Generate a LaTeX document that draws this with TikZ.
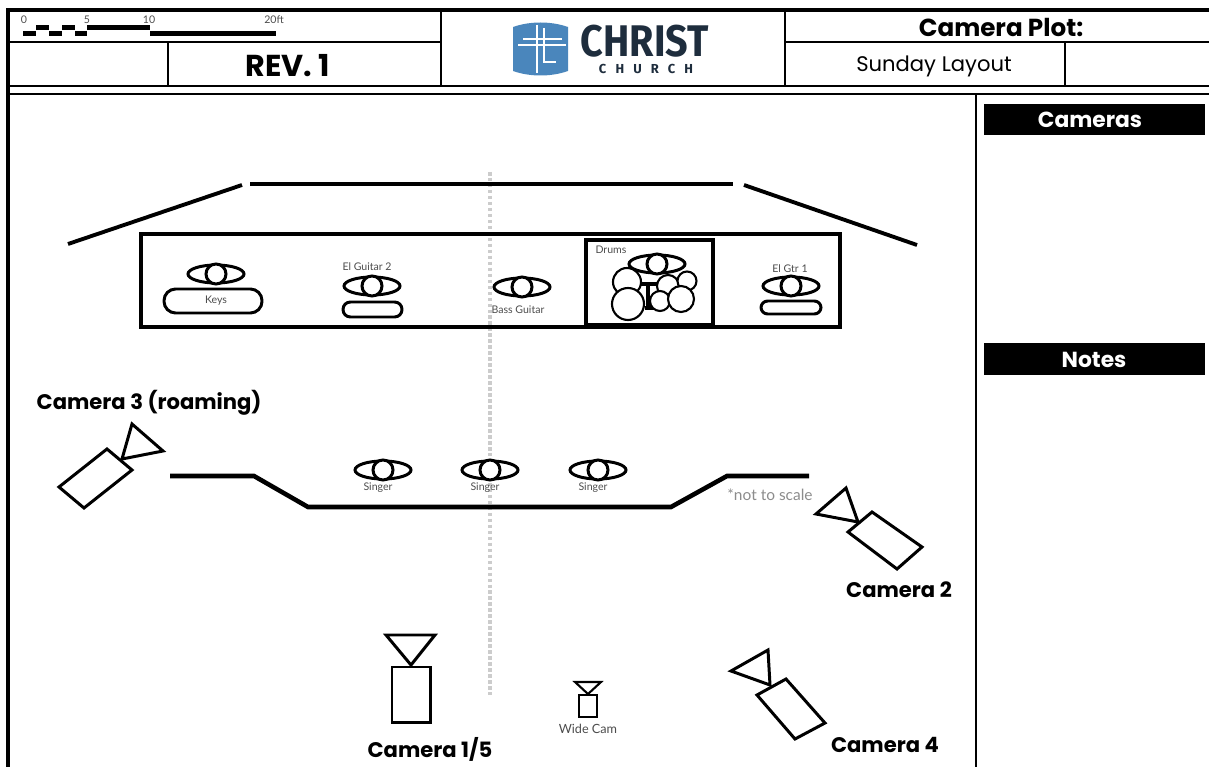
\documentclass[tikz,border=0pt]{standalone}
\usepackage{fontspec}
\setmainfont{Poppins}
\newfontfamily\logofont{Fira Sans}
\newfontfamily\spacedfont[LetterSpace=70]{Fira Sans}
\newfontfamily\plainfont{Lato}
\definecolor{logoblue}{HTML}{4A86BC}
\definecolor{logonavy}{HTML}{1E2D3D}

\tikzset{
  frameline/.style = {line width=.8pt, black},
  wall/.style = {line width=1.1pt, black},
  prop/.style = {line width=.85pt, black, fill=white},
  tiny label/.style = {font=\plainfont\fontsize{3}{4}\selectfont, text=black!70, inner sep=0pt},
  cam label/.style = {font=\bfseries\fontsize{6}{7}\selectfont, inner sep=0pt},
  panel label/.style = {font=\bfseries\fontsize{6.2}{7}\selectfont, text=white, inner sep=0pt},
  bar/.style = {fill=black, draw=none}
}

\begin{document}
\begin{tikzpicture}[x=.01cm, y=-.01cm]

% one person seen from above
\newcommand{\person}[2]{
  \draw [prop] (#1,#2) ellipse [x radius=28, y radius=9];
  \draw [prop] (#1,#2) circle [radius=10];
}

\useasboundingbox (0,0) rectangle (1209,767);

% Title block
\draw [frameline, line width=1pt] (8,767) -- (8,10) -- (1209,10);
\draw [frameline] (8,42) -- (441,42) (785,42) -- (1209,42);
\draw [frameline] (8,86) -- (1209,86) (8,94) -- (1209,94);
\draw [frameline] (168,42) -- (168,86) (441,10) -- (441,86)
    (785,10) -- (785,86) (1065,42) -- (1065,86);
\draw [frameline] (976,94) -- (976,767);

% Scale bar
\foreach \xa/\xb in {23/36, 49/62, 75/87, 150/276}
  \fill [bar] (\xa,31) rectangle (\xb,36);
\foreach \xa/\xb in {36/49, 62/75, 87/150}
  \fill [bar] (\xa,25) rectangle (\xb,30);
\node [tiny label] (scale0) at (24,20) {0};
\node [tiny label] (scale5) at (87,20) {5};
\node [tiny label] (scale10) at (149,20) {10};
\node [tiny label] (scale20) at (274,20) {20ft};

\node [font=\bfseries\fontsize{8.6}{10}\selectfont, inner sep=0pt] (rev) at (288,66) {REV. 1};

% Logo
\fill [logoblue] (513,27) .. controls (530,21) and (551,21) .. (568,27)
    -- (568,71) .. controls (551,77) and (530,77) .. (513,71) -- cycle;
\draw [white, line width=.5pt] (537,25) -- (537,73);
\draw [white, line width=.5pt] (523,39) -- (562,39) (518,45) -- (566,45);
\draw [white, line width=.4pt] (544,28) -- (544,62) -- (556,62);
\node [inner sep=0pt, text=logonavy] (christ) at (645,41)
    {\scalebox{1.07}[1.2]{\logofont\bfseries\fontsize{10.5}{10.5}\selectfont CHRIST}};
\node [inner sep=0pt, text=logonavy, font=\spacedfont\bfseries\fontsize{3.7}{4}\selectfont] (church) at (646,69)
    {CHURCH};

\node [font=\fontsize{7}{8}\selectfont\bfseries, inner sep=0pt] (plot) at (1001,27) {Camera Plot:};
\node [font=\fontsize{6}{7}\selectfont, inner sep=0pt] (layout) at (934,66) {Sunday Layout};

% Side panel
\fill [black] (984,104) rectangle (1205,135);
\fill [black] (984,343) rectangle (1205,375);
\node [panel label] (cameras) at (1090,120) {Cameras};
\node [panel label] (notes) at (1094,360) {Notes};

% Center line
\draw [black!20, line width=1.1pt, dash pattern=on 1pt off .7pt] (490,172) -- (490,695);

% Back wall
\draw [wall] (68,244) -- (242,185);
\draw [wall] (250,184) -- (733,184);
\draw [wall] (744,185) -- (917,245);

% Stage and drum booth
\draw [line width=1.2pt] (141,234) rectangle (840,327);
\draw [line width=1.2pt] (586,240) rectangle (713,325);

% Keys
\person{216}{274}
\draw [prop, rounded corners=3.3pt] (164,289) rectangle (262,313);
\node [tiny label] (keys) at (216,301) {Keys};

% El Guitar 2
\node [tiny label] (guitar2) at (367,267) {El Guitar 2};
\person{372}{286}
\draw [prop, rounded corners=2.1pt] (343,302) rectangle (402,317);

% Bass
\person{522}{287}
\node [tiny label] (bass) at (518,310) {Bass Guitar};

% Drums
\node [tiny label] (drums) at (611,250) {Drums};
\person{657}{264}
\draw [line width=1pt] (640,284) -- (660,284) (648,284) -- (648,308) (645,308) -- (660,308);
\foreach \cx/\cy/\rad in {627/282/14, 668/286/11, 687/281/9.5, 628/304/16, 660/301/10, 681/299/13}
  \draw [prop, line width=.6pt] (\cx,\cy) circle [radius=\rad];

% El Gtr 1
\node [tiny label] (guitar1) at (790,269) {El Gtr 1};
\person{791}{286}
\draw [prop, rounded corners=1.9pt] (761,301) rectangle (821,314);

% Stage lip
\draw [wall, line width=1.3pt] (170,476) -- (254,476) -- (308,507) -- (671,507)
    -- (727,476) -- (809,476);
\node [tiny label, font=\plainfont\fontsize{4.4}{5}\selectfont, text=black!45] (scale note) at (770,495) {*not to scale};

% Singers
\foreach \sx/\name in {383/a, 490/b, 598/c} {
  \person{\sx}{470}
  \node [tiny label] (singer\name) at (\sx-5,488) {Singer};
}

% Cameras
\draw [prop] (107,449) -- (132,470) -- (84,508) -- (59,487) -- cycle;
\draw [prop] (132,424) -- (163,451) -- (122,459) -- cycle;
\node [cam label, anchor=west] (cam3) at (36,403) {Camera 3 (roaming)};

\draw [prop] (872,512) -- (922,547) -- (897,569) -- (848,532) -- cycle;
\draw [prop] (846,488) -- (816,514) -- (858,522) -- cycle;
\node [cam label] (cam2) at (899,590) {Camera 2};

\draw [prop] (786,679) -- (825,723) -- (795,739) -- (757,695) -- cycle;
\draw [prop] (768,650) -- (731,671) -- (770,685) -- cycle;
\node [cam label] (cam4) at (885,745) {Camera 4};

\draw [prop] (392,667) rectangle (430,722);
\draw [prop] (386,635) -- (435,635) -- (411,665) -- cycle;
\node [cam label] (cam1) at (430,749) {Camera 1/5};

\draw [prop, line width=.6pt] (579,695) rectangle (597,717);
\draw [prop, line width=.6pt] (575,682) -- (601,682) -- (588,694) -- cycle;
\node [tiny label, font=\plainfont\fontsize{3.6}{4}\selectfont] (wide) at (588,729) {Wide Cam};

\end{tikzpicture}
\end{document}
